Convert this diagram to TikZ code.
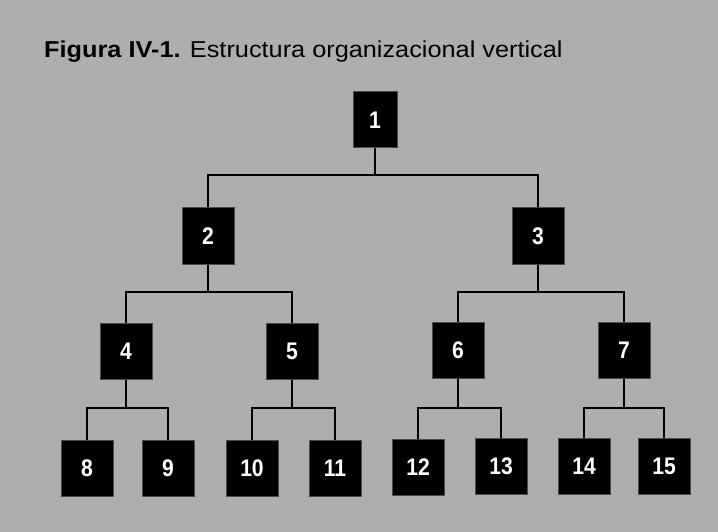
\documentclass[tikz,border=0pt]{standalone}
\usepackage{fontspec}
\setmainfont{Liberation Sans}
\begin{document}
\begin{tikzpicture}[x=1pt,y=-1pt,
  unit/.style={fill=black,draw=black!70,line width=1pt,minimum width=52pt,minimum height=56pt,
    inner sep=0pt,text=white,font=\fontsize{24}{24}\selectfont\bfseries},
  num/.style={xscale=0.88,inner sep=0pt,text=white,font=\fontsize{24}{24}\selectfont\bfseries},
  link/.style={line width=2.2pt,draw=black}]
\definecolor{bg}{HTML}{AEAEAE}
\fill[bg] (0,0) rectangle (718,532);
\useasboundingbox (0,0) rectangle (718,532);
\node[anchor=base west,inner sep=0pt,xscale=1.1,transform shape,font=\fontsize{23}{23}\selectfont] (title) at (44,58)
  {\textbf{Figura IV-1.} Estructura organizacional vertical};
\node[unit,minimum width=44pt] (n1) at (375,120) {};
\node[unit] (n2) at (208,236) {};
\node[unit] (n3) at (538,236) {};
\node[unit] (n4) at (126,351) {};
\node[unit] (n5) at (292,351) {};
\node[unit] (n6) at (458,350) {};
\node[unit] (n7) at (624,350) {};
\node[unit] (n8) at (87,468) {};
\node[unit] (n9) at (168,468) {};
\node[unit] (n10) at (252,468) {};
\node[unit] (n11) at (335,468) {};
\node[unit] (n12) at (418,467) {};
\node[unit] (n13) at (501,466) {};
\node[unit] (n14) at (584,466) {};
\node[unit] (n15) at (664,466) {};
\foreach \n/\t in {n1/1,n2/2,n3/3,n4/4,n5/5,n6/6,n7/7,n8/8,n9/9,n10/10,n11/11,n12/12,n13/13,n14/14,n15/15}
  \node[num,transform shape] (l\n) at (\n) {\t};
\draw[link] (n1.south) -- (n1.south |- 0,175) -| (n2.north);
\draw[link] (n1.south |- 0,175) -| (n3.north);
\draw[link] (n2.south) -- (n2.south |- 0,292) -| (n4.north);
\draw[link] (n2.south |- 0,292) -| (n5.north);
\draw[link] (n3.south) -- (n3.south |- 0,292) -| (n6.north);
\draw[link] (n3.south |- 0,292) -| (n7.north);
\draw[link] (n4.south) -- (n4.south |- 0,408) -| (n8.north);
\draw[link] (n4.south |- 0,408) -| (n9.north);
\draw[link] (n5.south) -- (n5.south |- 0,408) -| (n10.north);
\draw[link] (n5.south |- 0,408) -| (n11.north);
\draw[link] (n6.south) -- (n6.south |- 0,408) -| (n12.north);
\draw[link] (n6.south |- 0,408) -| (n13.north);
\draw[link] (n7.south) -- (n7.south |- 0,408) -| (n14.north);
\draw[link] (n7.south |- 0,408) -| (n15.north);
\end{tikzpicture}
\end{document}
